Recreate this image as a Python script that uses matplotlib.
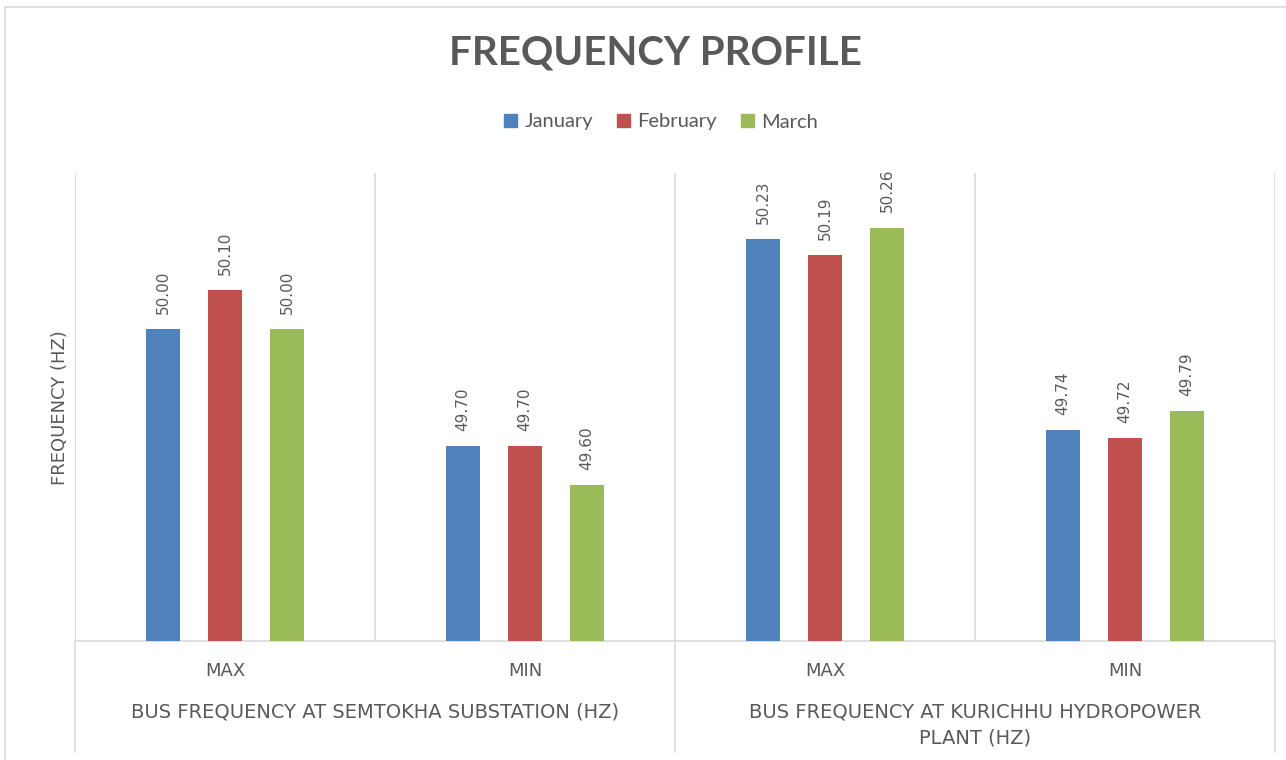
import matplotlib.pyplot as plt
from matplotlib.patches import Rectangle
from matplotlib.lines import Line2D
import numpy as np

plt.rcParams['font.family'] = ['Lato', 'DejaVu Sans']

# data
categories = ['MAX', 'MIN', 'MAX', 'MIN']
groups = ['BUS FREQUENCY AT SEMTOKHA SUBSTATION (HZ)',
          'BUS FREQUENCY AT KURICHHU HYDROPOWER\nPLANT (HZ)']
months = ['January', 'February', 'March']
january = [50.00, 49.70, 50.23, 49.74]
february = [50.10, 49.70, 50.19, 49.72]
march = [50.00, 49.60, 50.26, 49.79]

colors = ['#4F81BD', '#C0504D', '#9BBB59']
txt = '#595959'
grid = '#D9D9D9'
wide = ['DejaVu Sans']  # wider caps stand in for Excel's letter spacing

W, H = 1286, 760
fig = plt.figure(figsize=(W / 100, H / 100), dpi=100)

# outer chart border (top / left visible)
fig.patches.append(Rectangle((5 / W, -0.05), 1.2, 1 - 7 / H + 0.05,
                             transform=fig.transFigure, fill=False,
                             edgecolor='#D9D9D9', lw=1.2))

left, right, top, bottom = 75, 1275, 173, 641
ax = fig.add_axes([left / W, 1 - bottom / H, (right - left) / W, (bottom - top) / H])

x = np.arange(len(categories))
off = 0.207
bw = 0.113
for i, (vals, c) in enumerate(zip([january, february, march], colors)):
    xs = x + (i - 1) * off
    ax.bar(xs, vals, width=bw, color=c, bottom=0, zorder=3)
    for xx, v in zip(xs, vals):
        ax.annotate(f'{v:.2f}', (xx, v), xytext=(0, 11), textcoords='offset points',
                    rotation=90, ha='center', va='bottom', fontsize=11, color=txt,
                    family=wide)

ax.set_ylim(49.2, 50.4)
ax.set_xlim(-0.5, 3.5)
for s in ['top', 'right', 'left']:
    ax.spines[s].set_visible(False)
ax.spines['bottom'].set_color(grid)
ax.spines['bottom'].set_linewidth(1.2)
ax.set_yticks([])

# vertical grid lines between categories
for xv in [-0.5, 0.5, 1.5, 2.5, 3.5]:
    ax.axvline(xv, color=grid, lw=1.2, zorder=1)
# group separators extending through the category labels
ext = (752 - bottom) / (bottom - top)
for xv in [-0.5, 1.5, 3.5]:
    ax.add_line(Line2D([xv, xv], [0, -ext], transform=ax.get_xaxis_transform(),
                       color=grid, lw=1.2, clip_on=False))

ax.set_xticks(x)
ax.set_xticklabels(categories, fontsize=13, color=txt, family=wide)
ax.tick_params(axis='x', length=0, pad=15)

gy = -(703 - bottom) / (bottom - top)
for gi, g in enumerate(groups):
    ax.text(0.5 + 2 * gi, gy, g, transform=ax.get_xaxis_transform(), ha='center',
            va='top', fontsize=14, color=txt, linespacing=1.42, family=wide)

fig.text(60 / W, 1 - 408 / H, 'FREQUENCY (HZ)', rotation=90, ha='center', va='center',
         fontsize=13, color=txt, family=wide)

fig.text(655 / W, 1 - 53 / H, 'FREQUENCY PROFILE', ha='center', va='center',
         fontsize=29, fontweight='bold', color=txt)

handles = [Rectangle((0, 0), 1, 1, color=c) for c in colors]
leg = fig.legend(handles, months, loc='center', bbox_to_anchor=(661 / W, 1 - 122 / H),
                 ncol=3, frameon=False, fontsize=14.5, handlelength=0.65, handleheight=0.65,
                 handletextpad=0.35, columnspacing=1.2)
for t in leg.get_texts():
    t.set_color(txt)

fig.savefig('out.png', dpi=100)
